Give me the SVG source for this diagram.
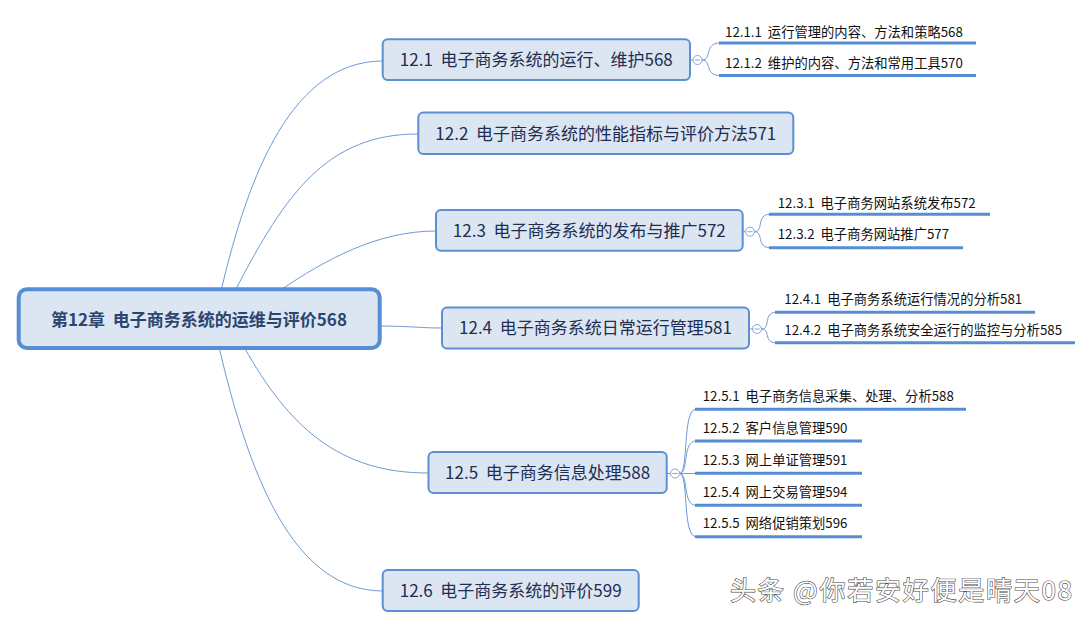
<svg xmlns="http://www.w3.org/2000/svg" width="1092" height="628" viewBox="0 0 1092 628">
<style>
text{white-space:pre}
.bg{fill:#ffffff}
.conn{fill:none;stroke:#6d9ad6;stroke-width:1}
.ul{fill:none;stroke:#558ed5;stroke-width:3}
.n1{fill:#dce6f2;stroke:#5b8fd4;stroke-width:2}
.root{fill:#dce6f2;stroke:#558ed5;stroke-width:4}
.t1{font-family:"Noto Sans CJK SC","Microsoft YaHei",sans-serif;font-size:17px;fill:#1f2d50;text-anchor:middle}
.t0{font-family:"Noto Sans CJK SC","Microsoft YaHei",sans-serif;font-size:17px;font-weight:bold;fill:#2b4570;text-anchor:middle}
.t2{font-family:"Noto Sans CJK SC","Microsoft YaHei",sans-serif;font-size:13.3px;fill:#111111}
.col{fill:#ffffff;stroke:#7ea6dc;stroke-width:1}
.wm{font-family:"Noto Sans CJK SC",sans-serif;font-size:26px;fill:#ffffff;stroke:#4a4a4a;stroke-width:1.2;paint-order:stroke}
</style>
<rect class="bg" x="0" y="0" width="1092" height="628"/>

<g id="connectors">
  <path class="conn" d="M221 291 C249 172 293 61 383 61"/>
  <path class="conn" d="M235 291 C286 192 328 134 418 134"/>
  <path class="conn" d="M282 289 C324 261 376 231 436 231"/>
  <path class="conn" d="M375 326 C410 326 420 328 442 328"/>
  <path class="conn" d="M244 347 C289 427 339 473 428 473"/>
  <path class="conn" d="M219 347 C249 475 293 591 383 591"/>
  <line class="conn" x1="690" y1="60" x2="693" y2="60"/>
  <path class="conn" d="M702 60 C712 60 704 43 720 43"/>
  <path class="conn" d="M702 60 C712 60 704 75.5 720 75.5"/>
  <line class="conn" x1="742.7" y1="231.7" x2="745.5" y2="231.7"/>
  <path class="conn" d="M754.5 231.7 C764 231.7 756 214.3 770 214.3"/>
  <path class="conn" d="M754.5 231.7 C764 231.7 756 247.7 770 247.7"/>
  <line class="conn" x1="749" y1="329" x2="752.5" y2="329"/>
  <path class="conn" d="M761.5 329 C771 329 763 312.3 776 312.3"/>
  <path class="conn" d="M761.5 329 C771 329 763 342.7 776 342.7"/>
  <line class="conn" x1="666.7" y1="473.5" x2="670.5" y2="473.5"/>
  <path class="conn" d="M679.5 473.5 C689 473.5 682 409.3 696 409.3"/>
  <path class="conn" d="M679.5 473.5 C689 473.5 682 441 696 441"/>
  <path class="conn" d="M679.5 473.5 L696 473.5"/>
  <path class="conn" d="M679.5 473.5 C689 473.5 682 505.3 696 505.3"/>
  <path class="conn" d="M679.5 473.5 C689 473.5 682 536.7 696 536.7"/>
</g>

<g id="root">
  <rect class="root" x="18.7" y="289.3" width="361" height="58.7" rx="8"/>
  <text class="t0" x="199" y="326">第12章  电子商务系统的运维与评价568</text>
</g>

<g id="n12-1">
  <rect class="n1" x="382.7" y="39.3" width="307.3" height="40.7" rx="5"/>
  <text class="t1" x="536.3" y="66">12.1  电子商务系统的运行、维护568</text>
  <circle class="col" cx="697.5" cy="60" r="4.5"/>
  <line x1="694.8" y1="60" x2="700.2" y2="60" stroke="#7ea6dc" stroke-width="1"/>
</g>
<g id="n12-1-1">
  <line class="ul" x1="719" y1="43" x2="976" y2="43"/>
  <text class="t2" x="725" y="36.5">12.1.1  运行管理的内容、方法和策略568</text>
</g>
<g id="n12-1-2">
  <line class="ul" x1="719" y1="75.5" x2="976" y2="75.5"/>
  <text class="t2" x="725" y="67.5">12.1.2  维护的内容、方法和常用工具570</text>
</g>

<g id="n12-2">
  <rect class="n1" x="418.3" y="112.5" width="375" height="41.5" rx="5"/>
  <text class="t1" x="605.8" y="139.5">12.2  电子商务系统的性能指标与评价方法571</text>
</g>

<g id="n12-3">
  <rect class="n1" x="436" y="210" width="306.7" height="40.7" rx="5"/>
  <text class="t1" x="589.3" y="236.5">12.3  电子商务系统的发布与推广572</text>
  <circle class="col" cx="750" cy="231.7" r="4.5"/>
  <line x1="747.3" y1="231.7" x2="752.7" y2="231.7" stroke="#7ea6dc" stroke-width="1"/>
</g>
<g id="n12-3-1">
  <line class="ul" x1="769" y1="214.3" x2="990" y2="214.3"/>
  <text class="t2" x="777.7" y="207.5">12.3.1  电子商务网站系统发布572</text>
</g>
<g id="n12-3-2">
  <line class="ul" x1="769" y1="247.7" x2="963" y2="247.7"/>
  <text class="t2" x="777.7" y="239">12.3.2  电子商务网站推广577</text>
</g>

<g id="n12-4">
  <rect class="n1" x="442" y="307.5" width="307" height="41" rx="5"/>
  <text class="t1" x="595.5" y="334">12.4  电子商务系统日常运行管理581</text>
  <circle class="col" cx="757" cy="329" r="4.5"/>
  <line x1="754.3" y1="329" x2="759.7" y2="329" stroke="#7ea6dc" stroke-width="1"/>
</g>
<g id="n12-4-1">
  <line class="ul" x1="775" y1="312.3" x2="1035" y2="312.3"/>
  <text class="t2" x="784.3" y="304">12.4.1  电子商务系统运行情况的分析581</text>
</g>
<g id="n12-4-2">
  <line class="ul" x1="775" y1="342.7" x2="1075" y2="342.7"/>
  <text class="t2" x="784.3" y="335">12.4.2  电子商务系统安全运行的监控与分析585</text>
</g>

<g id="n12-5">
  <rect class="n1" x="428.5" y="452" width="238.2" height="41" rx="5"/>
  <text class="t1" x="547.6" y="478.5">12.5  电子商务信息处理588</text>
  <circle class="col" cx="675" cy="473.5" r="4.5"/>
  <line x1="672.3" y1="473.5" x2="677.7" y2="473.5" stroke="#7ea6dc" stroke-width="1"/>
</g>
<g id="n12-5-1">
  <line class="ul" x1="695" y1="409.3" x2="966" y2="409.3"/>
  <text class="t2" x="702.7" y="400.7">12.5.1  电子商务信息采集、处理、分析588</text>
</g>
<g id="n12-5-2">
  <line class="ul" x1="695" y1="441" x2="862" y2="441"/>
  <text class="t2" x="702.7" y="432.7">12.5.2  客户信息管理590</text>
</g>
<g id="n12-5-3">
  <line class="ul" x1="695" y1="473.3" x2="862" y2="473.3"/>
  <text class="t2" x="702.7" y="465">12.5.3  网上单证管理591</text>
</g>
<g id="n12-5-4">
  <line class="ul" x1="695" y1="505.3" x2="862" y2="505.3"/>
  <text class="t2" x="702.7" y="496.7">12.5.4  网上交易管理594</text>
</g>
<g id="n12-5-5">
  <line class="ul" x1="695" y1="536.7" x2="862" y2="536.7"/>
  <text class="t2" x="702.7" y="528.3">12.5.5  网络促销策划596</text>
</g>

<g id="n12-6">
  <rect class="n1" x="382.7" y="570" width="256" height="41" rx="5"/>
  <text class="t1" x="510.7" y="596.5">12.6  电子商务系统的评价599</text>
</g>

<text class="wm" x="730" y="599.5" textLength="342">头条 @你若安好便是晴天08</text>
</svg>
